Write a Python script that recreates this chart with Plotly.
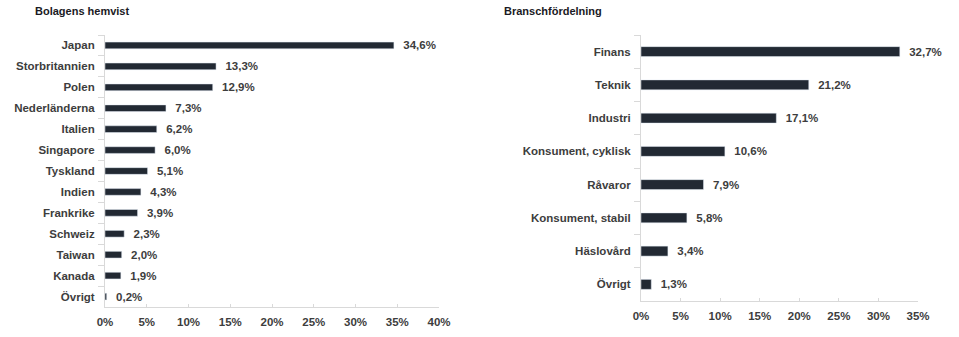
import plotly.graph_objects as go

# Left chart data
countries = ["Japan", "Storbritannien", "Polen", "Nederländerna", "Italien", "Singapore",
             "Tyskland", "Indien", "Frankrike", "Schweiz", "Taiwan", "Kanada", "Övrigt"]
country_vals = [34.6, 13.3, 12.9, 7.3, 6.2, 6.0, 5.1, 4.3, 3.9, 2.3, 2.0, 1.9, 0.2]
left_ticks = [0, 5, 10, 15, 20, 25, 30, 35, 40]

# Right chart data
sectors = ["Finans", "Teknik", "Industri", "Konsument, cyklisk", "Råvaror",
           "Konsument, stabil", "Häslovård", "Övrigt"]
sector_vals = [32.7, 21.2, 17.1, 10.6, 7.9, 5.8, 3.4, 1.3]
right_ticks = [0, 5, 10, 15, 20, 25, 30, 35]

BAR = "#222933"
TXT = "#3d3d3d"
AX = "#d9d9d9"
FONT = "Liberation Sans, Arial, sans-serif"

def fmt(v):
    return ("%.1f" % v).replace(".", ",") + "%"

tf = dict(family=FONT, size=11.5, color=TXT, weight="bold")

fig = go.Figure()
fig.add_trace(go.Bar(
    y=countries, x=country_vals, orientation="h", marker_color=BAR, width=0.32,
    text=["\u00a0\u00a0" + fmt(v) for v in country_vals], textposition="outside",
    cliponaxis=False, constraintext="none",
    textfont=tf, xaxis="x", yaxis="y", hoverinfo="skip"))
fig.add_trace(go.Bar(
    y=sectors, x=sector_vals, orientation="h", marker_color=BAR, width=0.3,
    text=["\u00a0\u00a0" + fmt(v) for v in sector_vals], textposition="outside",
    cliponaxis=False, constraintext="none",
    textfont=tf, xaxis="x2", yaxis="y2", hoverinfo="skip"))

W, H = 959, 337
def px_x(a, b):
    return [a / W, b / W]
def px_y(top, bottom):
    return [1 - bottom / H, 1 - top / H]

xcommon = dict(showgrid=False, zeroline=False, showline=True, linecolor=AX, linewidth=1,
               ticks="inside", ticklen=3, tickcolor=AX, tickmode="array",
               tickfont=tf, fixedrange=True, automargin=False, ticklabelstandoff=4)
ycommon = dict(showgrid=False, zeroline=False, showline=True, linecolor=AX, linewidth=1,
               ticks="outside", ticklen=6, tickcolor=AX, tickson="boundaries",
               tickfont=tf, type="category", autorange="reversed", fixedrange=True,
               automargin=False, ticklabelstandoff=7)

fig.update_layout(
    width=W, height=H, margin=dict(l=0, r=0, t=0, b=0, pad=0), autosize=False,
    paper_bgcolor="white", plot_bgcolor="white", showlegend=False,
    font=dict(family=FONT, size=11, color=TXT),
    xaxis=dict(domain=px_x(105, 439), range=[0, 40], tickvals=left_ticks,
               ticktext=[f"{t}%" for t in left_ticks], anchor="y", **xcommon),
    yaxis=dict(domain=px_y(35, 307), anchor="x", categoryorder="array",
               categoryarray=countries, **ycommon),
    xaxis2=dict(domain=px_x(641, 918), range=[0, 35], tickvals=right_ticks,
                ticktext=[f"{t}%" for t in right_ticks], anchor="y2", **xcommon),
    yaxis2=dict(domain=px_y(35, 301), anchor="x2", categoryorder="array",
                categoryarray=sectors, **ycommon),
    annotations=[
        dict(text="<b>Bolagens hemvist</b>", x=33 / W, y=1 - 3 / H, xref="paper", yref="paper",
             xanchor="left", yanchor="top", showarrow=False,
             font=dict(family=FONT, size=11, color="#1a1a24")),
        dict(text="<b>Branschfördelning</b>", x=502 / W, y=1 - 3 / H, xref="paper", yref="paper",
             xanchor="left", yanchor="top", showarrow=False,
             font=dict(family=FONT, size=11, color="#1a1a24")),
    ],
)

fig.write_html("out.html")
